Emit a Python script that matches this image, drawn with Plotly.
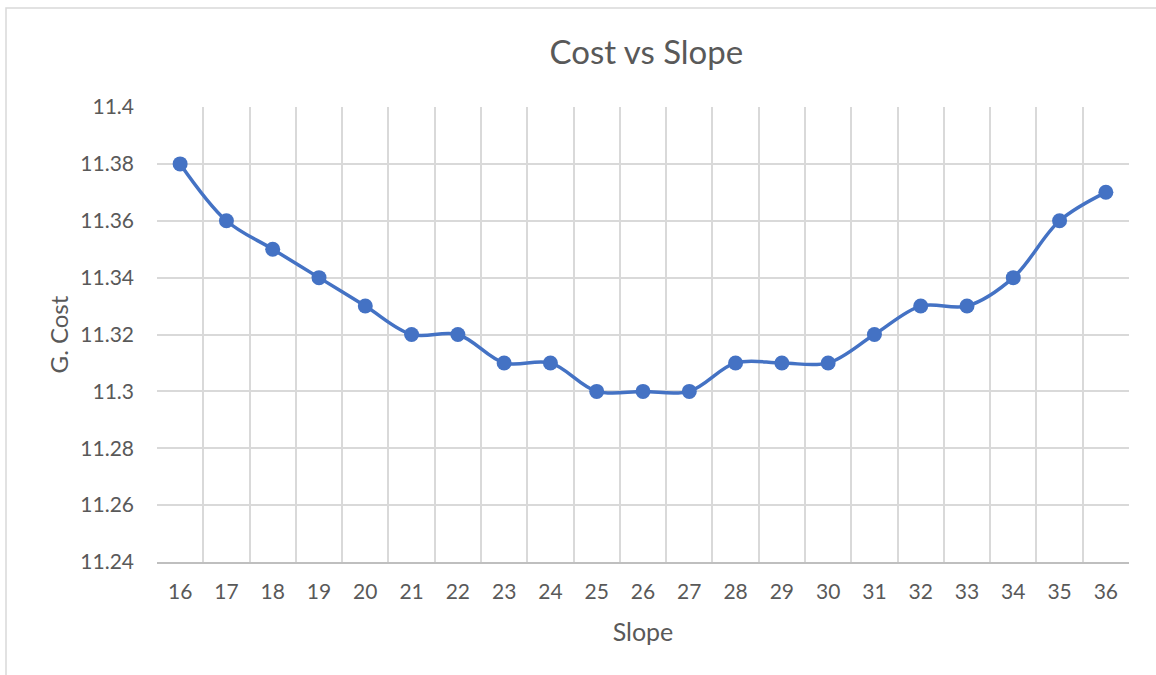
import plotly.graph_objects as go

slope = list(range(16, 37))
g_cost = [11.38, 11.36, 11.35, 11.34, 11.33, 11.32, 11.32, 11.31, 11.31, 11.30,
          11.30, 11.30, 11.31, 11.31, 11.31, 11.32, 11.33, 11.33, 11.34, 11.36, 11.37]
y_tick_vals = [11.24, 11.26, 11.28, 11.30, 11.32, 11.34, 11.36, 11.38, 11.40]
y_tick_text = ["11.24", "11.26", "11.28", "11.3", "11.32", "11.34", "11.36", "11.38", "11.4"]

FONT = "Lato, Calibri, 'Open Sans', sans-serif"
TXT = "#595959"
GRID = "#d9d9d9"

fig = go.Figure()
fig.add_trace(go.Scatter(
    x=slope, y=g_cost, mode="lines+markers",
    line=dict(color="#4472C4", width=3.5, shape="spline", smoothing=1.0),
    marker=dict(color="#4472C4", size=15),
    showlegend=False,
))

L, R, T, B = 157, 27, 107, 113
W, H = 1156, 675
pw, ph = W - L - R, H - T - B

fig.update_layout(
    width=W, height=H,
    margin=dict(l=L, r=R, t=T, b=B),
    paper_bgcolor="white", plot_bgcolor="white",
    font=dict(family=FONT, color=TXT, size=21),
    title=dict(text="Cost vs Slope", x=0.5035, xanchor="center", xref="paper",
               y=1 - 52 / H, yanchor="middle", yref="container",
               font=dict(size=33, color=TXT, family=FONT)),
    xaxis=dict(
        range=[15.5, 36.5], tickmode="array", tickvals=slope,
        ticktext=[str(s) for s in slope],
        showgrid=False, zeroline=False,
        showline=True, linecolor="#bfbfbf", linewidth=1.5,
        ticks="", ticklabelstandoff=10,
        minor=dict(tickvals=[s - 0.5 for s in slope] + [36.5], showgrid=True,
                   gridcolor=GRID, gridwidth=1.5, ticks=""),
        title=dict(text="Slope", standoff=22, font=dict(size=25, color=TXT)),
        fixedrange=True,
    ),
    yaxis=dict(
        range=[11.24, 11.40], tickmode="array", tickvals=y_tick_vals, ticktext=y_tick_text,
        showgrid=True, gridcolor=GRID, gridwidth=1.5, zeroline=False,
        showline=False, ticks="", ticklabelstandoff=22,
        title=dict(text="G. Cost", standoff=4, font=dict(size=24, color=TXT)),
        fixedrange=True,
    ),
)

# outer chart border (Excel chart-area frame, cropped at right/bottom)
fig.add_shape(type="rect", xref="paper", yref="paper",
              x0=(6 - L) / pw, x1=(W + 10 - L) / pw,
              y0=(H - B - (H + 10)) / ph, y1=(H - B - 8) / ph,
              line=dict(color=GRID, width=1.5), fillcolor="rgba(0,0,0,0)", layer="below")

fig.write_html("out.html", config={"displayModeBar": False},
               post_script="document.body.style.margin='0';document.body.style.overflow='hidden';")
